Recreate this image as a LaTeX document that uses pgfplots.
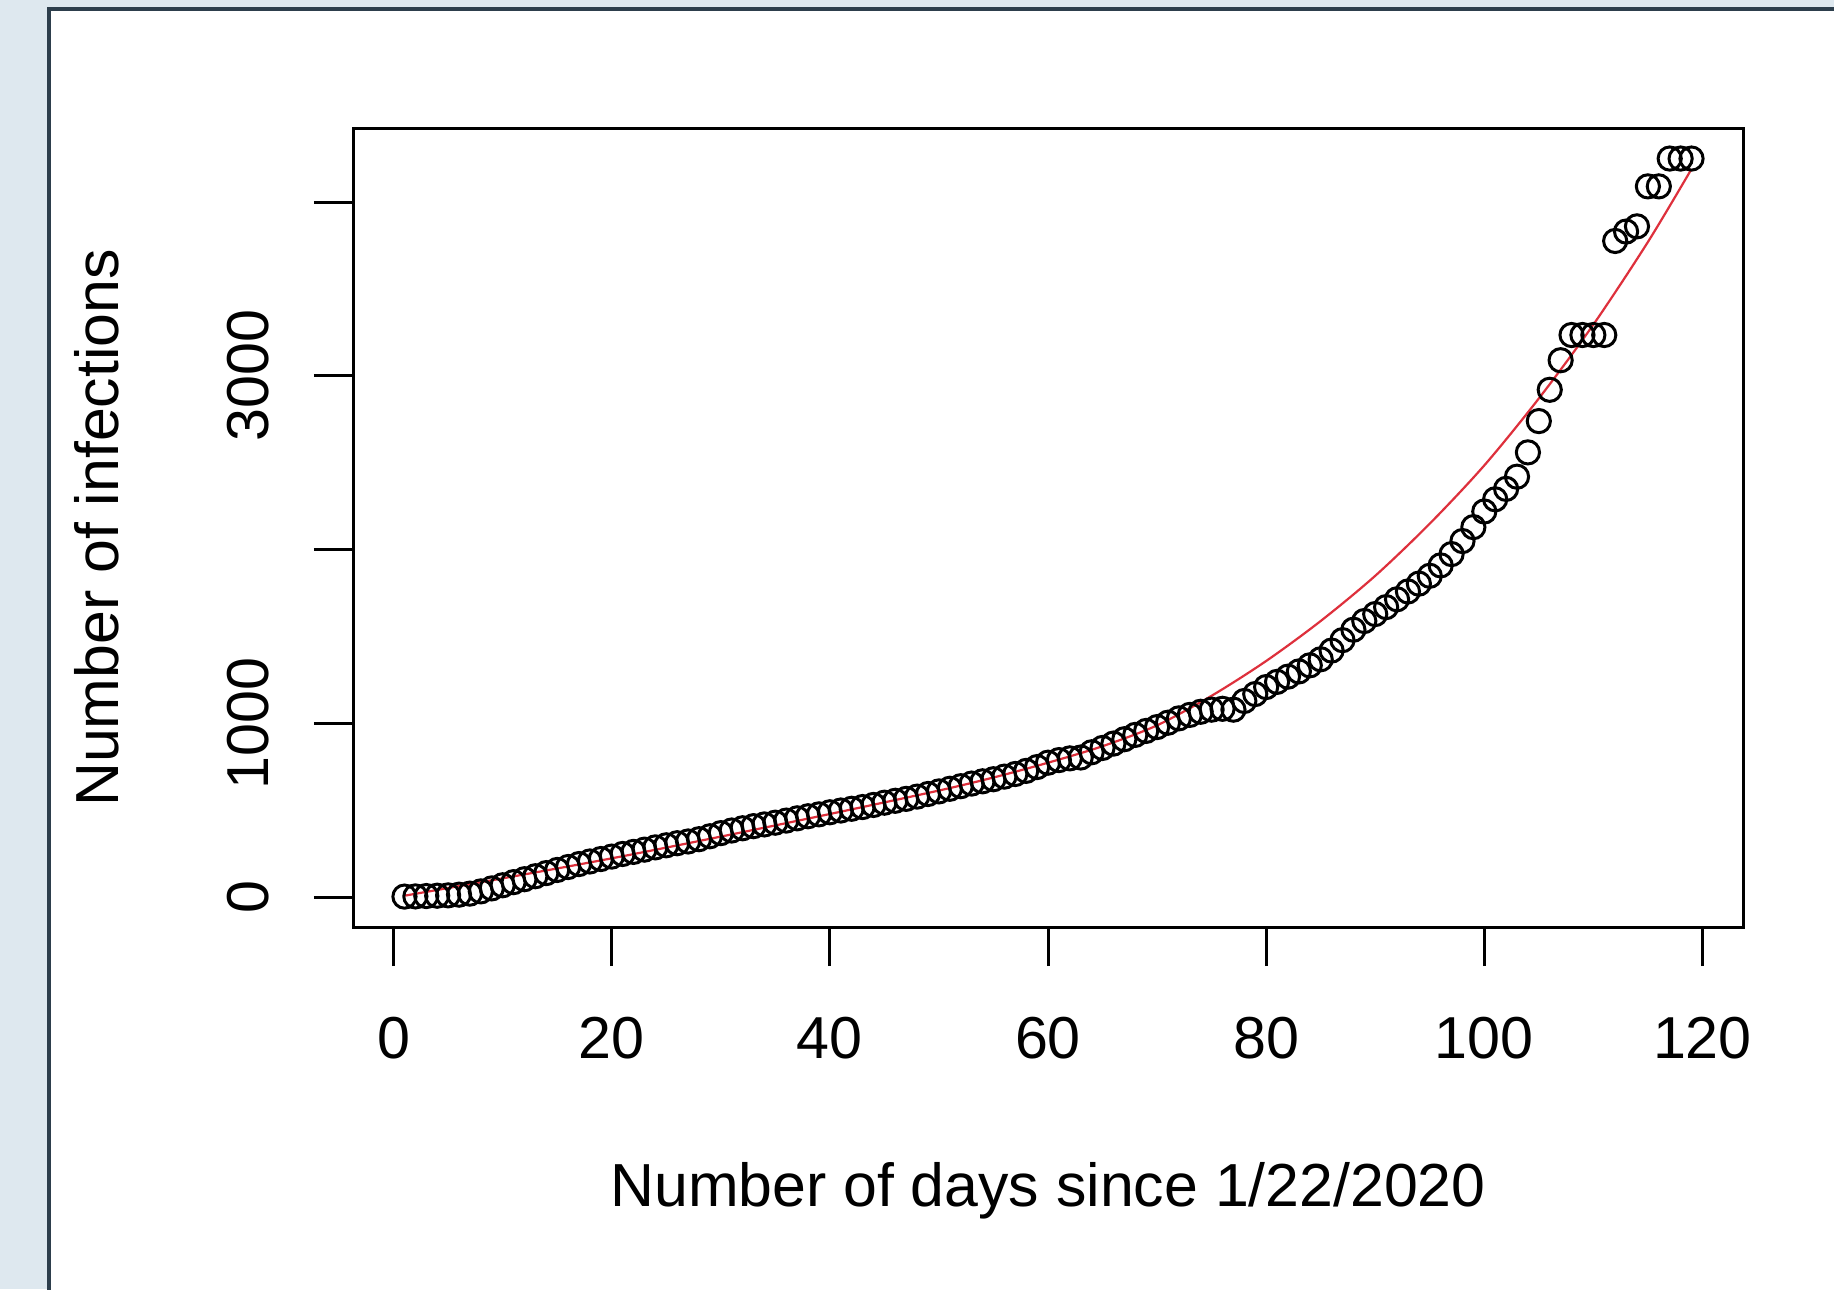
\documentclass[border=0pt]{standalone}
\usepackage{fontspec}
\setmainfont{Liberation Sans}
\usepackage{pgfplots}
\usepackage{pgfplotstable}
\pgfplotsset{compat=1.18}

\definecolor{bgblue}{RGB}{222,232,239}
\definecolor{paneledge}{RGB}{45,62,76}
\definecolor{fitred}{RGB}{222,48,60}

% cumulative infections per day
\pgfplotstableread{
day infections
1 5
2 6
3 8
4 10
5 12
6 16
7 22
8 35
9 52
10 70
11 88
12 105
13 122
14 140
15 158
16 175
17 192
18 207
19 221
20 235
21 250
22 262
23 275
24 288
25 300
26 312
27 322
28 335
29 352
30 370
31 385
32 398
33 410
34 420
35 430
36 442
37 455
38 467
39 478
40 490
41 500
42 510
43 520
44 532
45 545
46 556
47 567
48 580
49 595
50 610
51 625
52 640
53 655
54 668
55 680
56 695
57 710
58 728
59 750
60 775
61 790
62 800
63 805
64 835
65 860
66 885
67 910
68 935
69 958
70 980
71 1005
72 1030
73 1050
74 1068
75 1080
76 1085
77 1080
78 1130
79 1170
80 1210
81 1240
82 1270
83 1300
84 1335
85 1370
86 1420
87 1480
88 1540
89 1590
90 1630
91 1670
92 1715
93 1760
94 1805
95 1850
96 1910
97 1975
98 2050
99 2130
100 2220
101 2290
102 2350
103 2420
104 2560
105 2740
106 2920
107 3090
108 3235
109 3235
110 3235
111 3235
112 3776
113 3830
114 3860
115 4090
116 4090
117 4250
118 4250
119 4250
}\casedata

% fitted curve (red)
\pgfplotstableread{
day fit
1 10
10 110
20 225
30 350
40 480
50 615
55 690
60 775
65 870
70 990
75 1160
80 1360
85 1590
90 1850
95 2150
100 2485
105 2870
110 3295
115 3770
119 4190
}\fitdata

\begin{document}
\begin{tikzpicture}
\useasboundingbox (0,0) rectangle (458.5pt,322.25pt);
\fill[bgblue] (0,0) rectangle (458.5pt,322.25pt);
\draw[fill=white, draw=paneledge, line width=1pt] (12.25pt,320pt) rectangle (470pt,-10pt);
\begin{axis}[
    at={(88.25pt,90.5pt)}, anchor=south west,
    scale only axis,
    width=347.5pt, height=199.5pt,
    xmin=-3.72, xmax=123.72,
    ymin=-170, ymax=4420,
    axis line style={line width=0.75pt, black},
    tick style={line width=0.75pt, black},
    tick align=outside,
    major tick length=9.75pt,
    tick pos=left,
    xtick={0,20,...,120},
    ytick={0,1000,2000,3000,4000},
    yticklabels={0,1000,,3000,},
    /pgf/number format/assume math mode=true,
    scaled y ticks=false,
    ticklabel style={font=\fontsize{14.8pt}{17pt}\selectfont},
    xticklabel style={anchor=center},
    xticklabel shift=18pt,
    yticklabel style={anchor=center, rotate=90},
    yticklabel shift=16.5pt,
    label style={font=\fontsize{15.2pt}{18pt}\selectfont},
    xlabel={Number of days since 1/22/2020},
    xlabel style={at={([yshift=-66pt]axis description cs:0.5,0)}, anchor=center},
    ylabel={Number of infections},
    ylabel style={at={([xshift=-64pt]axis description cs:0,0.5)}, anchor=center},
]
\addplot[only marks, mark=o, mark size=2.9pt,
    mark options={line width=0.75pt, draw=black, fill=none}]
    table[x=day, y=infections]{\casedata};
\addplot[fitred, line width=0.55pt, smooth, no marks]
    table[x=day, y=fit]{\fitdata};
\end{axis}
\end{tikzpicture}
\end{document}
